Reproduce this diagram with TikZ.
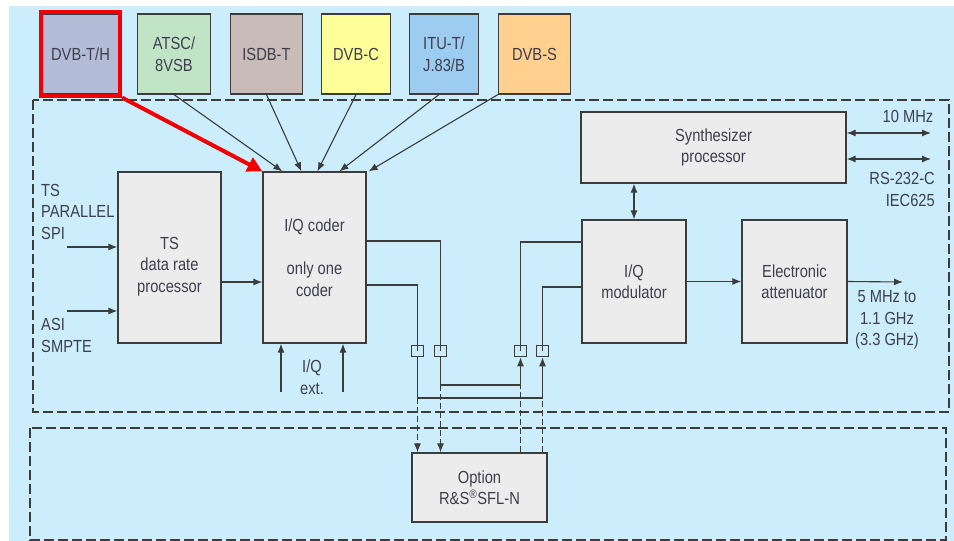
\documentclass[tikz,border=0pt]{standalone}
\usepackage{fontspec}
\setmainfont{Liberation Sans}[FakeStretch=0.84]
\usepackage{tikz}
\usetikzlibrary{arrows.meta, positioning, fit}
\definecolor{bgBlue}{HTML}{CCEEFC}
\definecolor{boxGray}{HTML}{ECECEC}
\definecolor{lineGray}{HTML}{3C3C3C}
\definecolor{txtGray}{HTML}{3E3E4E}
\definecolor{markRed}{HTML}{F00000}
\definecolor{dvbtFill}{HTML}{B3BCD6}
\definecolor{atscFill}{HTML}{C2E4C6}
\definecolor{isdbFill}{HTML}{C9BBB7}
\definecolor{dvbcFill}{HTML}{FFFF99}
\definecolor{ituFill}{HTML}{9CCDF0}
\definecolor{dvbsFill}{HTML}{FFD08E}

\begin{document}
\begin{tikzpicture}[
  x=1pt, y=-1pt,
  every node/.style={font=\fontsize{17.5}{21.5}\selectfont, text=txtGray},
  blk/.style={rectangle, draw=lineGray, fill=boxGray, line width=1.2pt, align=center, inner sep=0pt},
  std/.style={rectangle, draw=lineGray, line width=1.2pt, align=center, minimum height=80pt, inner sep=0pt},
  port/.style={rectangle, draw=lineGray, line width=1.1pt, minimum size=11.5pt, inner sep=0pt},
  lbl/.style={inner sep=0pt},
  wire/.style={draw=lineGray, line width=1.1pt},
  arrow/.style={wire, -{Latex[length=9pt,width=7pt]}},
  dblarrow/.style={wire, {Latex[length=9pt,width=7pt]}-{Latex[length=9pt,width=7pt]}},
  optwire/.style={wire, dash pattern=on 6pt off 3pt},
  optarrow/.style={optwire, -{Latex[length=9pt,width=7pt]}},
  frame/.style={draw=lineGray, line width=1.3pt, dash pattern=on 10pt off 4pt},
  redarrow/.style={draw=markRed, line width=4pt, -{Triangle[length=15pt,width=15pt]}},
]

\useasboundingbox (0,0) rectangle (954,541);
\fill[bgBlue] (9,6) rectangle (954,541);

% dashed areas
\draw[frame] (33,100) rectangle (949,412);
\draw[frame] (30,428) rectangle (946,540);

% standards
\node[std, fill=dvbtFill, minimum width=76pt] (dvbt) at (80.5,54) {DVB-T/H};
\node[std, fill=atscFill, minimum width=73pt, right=17.8pt of dvbt] (atsc) {ATSC/\\8VSB};
\node[std, fill=isdbFill, minimum width=72pt, right=18.8pt of atsc] (isdb) {ISDB-T};
\node[std, fill=dvbcFill, minimum width=69pt, right=17.8pt of isdb] (dvbc) {DVB-C};
\node[std, fill=ituFill, minimum width=69pt, right=17.8pt of dvbc] (itut) {ITU-T/\\J.83/B};
\node[std, fill=dvbsFill, minimum width=72pt, right=18.8pt of itut] (dvbs) {DVB-S};
\node[draw=markRed, line width=4pt, fit=(dvbt), inner sep=1pt] (mark) {};

% main blocks
\node[blk, minimum width=103pt, minimum height=171pt,
  label={[align=center, yshift=-9pt]center:TS\\data rate\\processor}] (tsrate) at (169.5,257.5) {};
\node[blk, minimum width=103pt, minimum height=171pt, right=40.8pt of tsrate] (coder) {I/Q coder\\[21.5pt]only one\\coder};
\node[blk, minimum width=265pt, minimum height=71pt] (synth) at (713.5,147.5) {Synthesizer\\processor};
\node[blk, minimum width=104pt, minimum height=123pt] (iqmod) at (634,281.5) {I/Q\\modulator};
\node[blk, minimum width=105pt, minimum height=123pt, right=54.8pt of iqmod] (atten) {Electronic\\attenuator};
\node[blk, minimum width=135pt, minimum height=69pt] (option) at (479.5,487.5) {Option\\R\&S\textsuperscript{\textregistered}SFL-N};

% ports
\node[port] (qout) at (417.5,351) {};
\node[port] (iout) at (440.5,351) {};
\node[port] (iin) at (520.5,351) {};
\node[port] (qin) at (542.5,351) {};

% free ends
\coordinate (spi) at (67,247);
\coordinate (asi) at (67,311);
\coordinate (extI) at (281,392);
\coordinate (extQ) at (343,392);
\coordinate (clk) at (931,133);
\coordinate (rs) at (931,159);
\coordinate (rfout) at (903,282);
\coordinate (ibend) at (440.5,385);
\coordinate (qbend) at (417.5,398);

% labels
\node[lbl, align=left, anchor=west] (spilbl) at (41,211.5) {TS\\PARALLEL\\SPI};
\node[lbl, align=left, anchor=west] (asilbl) at (41,335.5) {ASI\\SMPTE};
\node[lbl] (clklbl) at (908,116) {10 MHz};
\node[lbl, align=right, anchor=east] (rslbl) at (935,189.5) {RS-232-C\\IEC625};
\node[lbl, align=center] (rflbl) at (887,320) {5 MHz to\\1.1 GHz\\(3.3 GHz)};
\node[lbl, align=center] (extlbl) at (312,377) {I/Q\\ext.};

% standards to coder
\draw[arrow] (atsc.south) -- ([xshift=20pt]coder.north west);
\draw[arrow] (isdb.south) -- ([xshift=39pt]coder.north west);
\draw[arrow] (dvbc.south) -- ([xshift=55pt]coder.north west);
\draw[arrow] ([xshift=-5pt]itut.south) -- ([xshift=77pt]coder.north west);
\draw[arrow] (dvbs.south west) -- ([xshift=2pt]coder.north east);
\draw[redarrow] (mark.south east) -- (coder.north west);

% inputs
\draw[arrow] (spi) -- (spi -| tsrate.west);
\draw[arrow] (asi) -- (asi -| tsrate.west);
\draw[arrow] ([yshift=-24.5pt]tsrate.east) -- ([yshift=-24.5pt]coder.west);
\draw[arrow] (extI) -- (extI |- coder.south);
\draw[arrow] (extQ) -- (extQ |- coder.south);

% I/Q paths
\draw[wire] ([yshift=16.5pt]coder.east) -| (iout.center);
\draw[wire] ([yshift=-27.5pt]coder.east) -| (qout.center);
\draw[arrow] (iout.south) -- (ibend) -| (iin.south);
\draw[arrow] (qout.south) -- (qbend) -| (qin.south);
\draw[wire] ([yshift=39.5pt]iqmod.west) -| (iin.center);
\draw[wire] ([yshift=-5.5pt]iqmod.west) -| (qin.center);

% option paths
\draw[optarrow] (qbend) -- (qbend |- option.north);
\draw[optarrow] (ibend) -- (ibend |- option.north);
\draw[optwire] (iin |- option.north) -- (iin |- ibend);
\draw[optwire] (qin |- option.north) -- (qin |- qbend);

% RF chain
\draw[dblarrow] (iqmod.north |- synth.south) -- (iqmod.north);
\draw[dblarrow] (clk -| synth.east) -- (clk);
\draw[dblarrow] (rs -| synth.east) -- (rs);
\draw[arrow] (iqmod) -- (atten);
\draw[arrow] (atten.east) -- (rfout);

\end{tikzpicture}
\end{document}
